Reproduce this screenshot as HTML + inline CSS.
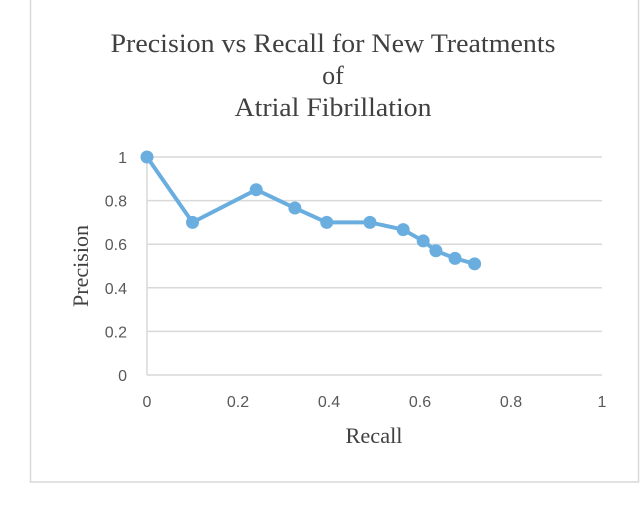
<!DOCTYPE html>
<html><head><meta charset="utf-8"><style>
html,body{margin:0;padding:0;background:#fff;width:640px;height:512px;overflow:hidden}
</style></head><body>
<svg id="chart" width="640" height="512" xmlns="http://www.w3.org/2000/svg">
<rect x="30.5" y="-2" width="608" height="484" fill="#fff" stroke="#d9d9d9" stroke-width="1.5"/>
<g font-family="Liberation Serif, serif" fill="#404040" font-size="26" text-anchor="middle">
<text x="333" y="52" textLength="445" lengthAdjust="spacingAndGlyphs">Precision vs Recall for New Treatments</text>
<text x="333" y="84">of</text>
<text x="333" y="116" textLength="197" lengthAdjust="spacingAndGlyphs">Atrial Fibrillation</text>
</g>
<g id="grid"></g><g id="ticks"></g><g id="series"></g>
<text x="374" y="443" font-family="Liberation Serif, serif" font-size="22" fill="#404040" text-anchor="middle" textLength="57" lengthAdjust="spacingAndGlyphs">Recall</text>
<text transform="translate(88,266) rotate(-90)" font-family="Liberation Serif, serif" font-size="22" fill="#404040" text-anchor="middle">Precision</text>
</svg>
<script>
const recall=[0,0.1,0.24,0.325,0.395,0.49,0.563,0.607,0.635,0.677,0.72];
const precision=[1,0.70,0.85,0.766,0.70,0.70,0.667,0.615,0.57,0.535,0.51];
const xTicks=[0,0.2,0.4,0.6,0.8,1];
const yTicks=[0,0.2,0.4,0.6,0.8,1];
const NS='http://www.w3.org/2000/svg';
const X=v=>147+v*455, Y=v=>375-v*218;
function mk(t,a,p){const e=document.createElementNS(NS,t);for(const k in a)e.setAttribute(k,a[k]);p.appendChild(e);return e;}
const g=document.getElementById('grid'),tk=document.getElementById('ticks'),s=document.getElementById('series');
yTicks.forEach(v=>{
 const l=mk('line',{x1:147,x2:602,y1:Y(v),y2:Y(v),stroke:'#d9d9d9','stroke-width':1.5},g);
 
 
 const t=mk('text',{x:127,y:Y(v)+6,'text-anchor':'end','font-family':'Liberation Sans, sans-serif','font-size':16,fill:'#595959'},tk);
 t.textContent=String(v);
 
 
});
const ax=mk('line',{x1:147,x2:147,y1:Y(0),y2:Y(1),stroke:'#d9d9d9','stroke-width':1.5},g);


xTicks.forEach(v=>{
 const t=mk('text',{x:X(v),y:407,'text-anchor':'middle','font-family':'Liberation Sans, sans-serif','font-size':16,fill:'#595959'},tk);
 t.textContent=String(v);
 
 
});
const line=mk('polyline',{points:recall.map((r,i)=>X(r)+','+Y(precision[i])).join(' '),fill:'none',stroke:'#6aaee0','stroke-width':4,'stroke-linejoin':'round'},s);


recall.forEach((r,i)=>{
 const c=mk('circle',{cx:X(r),cy:Y(precision[i]),r:6.5,fill:'#6aaee0'},s);
 
 
});
</script>
</body></html>
